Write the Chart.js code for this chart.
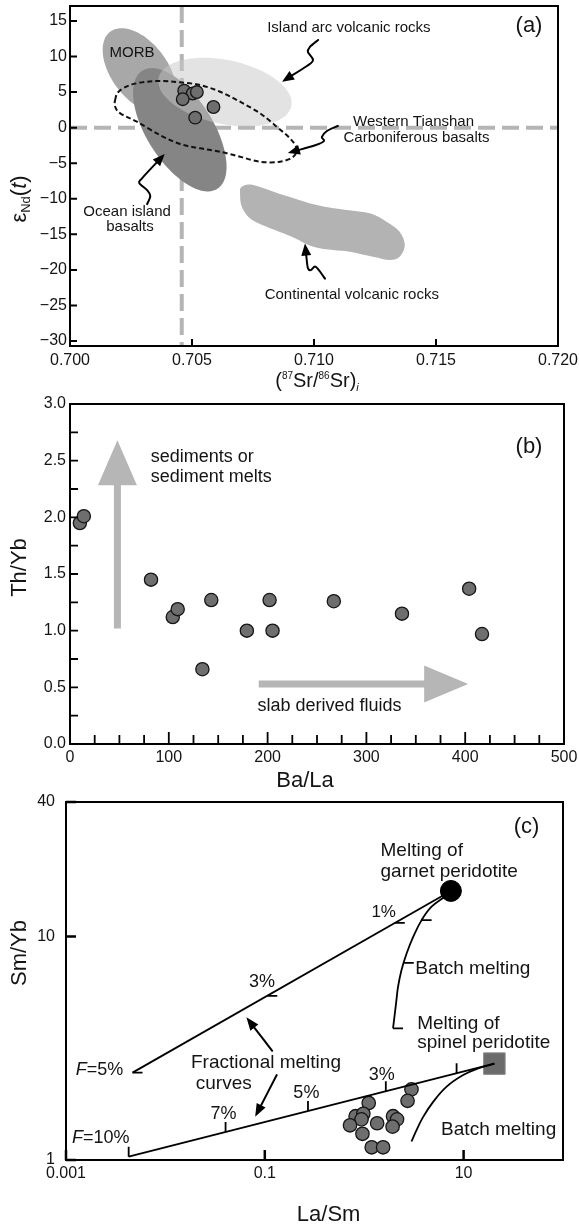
<!DOCTYPE html>
<html lang="en">
<head>
<meta charset="utf-8">
<title>Sr–Nd isotopes, Th/Yb–Ba/La and Sm/Yb–La/Sm diagrams</title>
<script src="https://cdn.jsdelivr.net/npm/chart.js@4.4.0/dist/chart.umd.min.js"></script>
<style>
  html, body { margin: 0; padding: 0; background: #fff; }
  #figure { position: relative; width: 579px; height: 1224px; overflow: hidden; background: #fff; }
  #figure canvas { position: absolute; left: 0; }
</style>
</head>
<body>
<div id="figure">
  <canvas id="panelA" width="579" height="400" style="top:0px"></canvas>
  <canvas id="panelB" width="579" height="410" style="top:388px"></canvas>
  <canvas id="panelC" width="579" height="434" style="top:790px"></canvas>
</div>
<script>
/* ================= (a) eNd(t) vs initial 87Sr/86Sr ================= */
const SR_TICKS = [0.700, 0.705, 0.710, 0.715, 0.720];
const SR_LABELS = ['0.700', '0.705', '0.710', '0.715', '0.720'];
const END_TICKS = [15, 10, 5, 0, -5, -10, -15, -20, -25, -30];
const END_LABELS = ['15', '10', '5', '0', '\u22125', '\u221210', '\u221215', '\u221220', '\u221225', '\u221230'];
const SAMPLE_SR = [0.70468, 0.70503, 0.70520, 0.70462, 0.70513, 0.70588];
const SAMPLE_END = [5.2, 4.8, 5.0, 4.0, 1.4, 2.9];
// bulk silicate earth reference values
const BSE_SR = 0.70458;
const BSE_END = 0;
// elliptical fields: centre (Sr, eNd) followed by two conjugate half-axes (dSr, deNd)
const MORB_FIELD = [0.70285, 8.0, 0.00120, -5.49, -0.00092, -2.37];
const OIB_FIELD = [0.70450, -0.3, 0.00154, -8.30, -0.00114, -2.50];
const ARC_FIELD = [0.70635, 5.0, 0.00272, -1.98, -0.00027, -4.40];
// outline of the continental volcanic rock field (Sr, eNd)
const CONT_FIELD = [[0.70704,-8.31],[0.70751,-8.07],[0.70874,-9.48],[0.71011,-10.89],[0.71133,-11.59],
  [0.71229,-12.05],[0.71297,-13.23],[0.71351,-14.64],[0.71372,-16.51],[0.71351,-18.16],[0.71311,-18.62],
  [0.71242,-18.16],[0.71147,-17.45],[0.71079,-17.22],[0.70997,-16.75],[0.70915,-15.43],[0.70806,-13.94],
  [0.70738,-12.76],[0.70704,-11.13],[0.70697,-9.24]];
// outline of the Western Tianshan Carboniferous basalt field
const TIANSHAN_FIELD = [[0.70185,3.88],[0.70199,5.05],[0.70247,5.99],[0.70315,6.46],[0.70383,6.55],
  [0.70451,6.37],[0.70533,5.99],[0.70615,5.05],[0.70697,3.64],[0.70779,2.01],[0.70847,0.13],[0.70901,-1.50],
  [0.70929,-2.91],[0.70915,-4.09],[0.70860,-4.80],[0.70779,-4.80],[0.70697,-4.09],[0.70615,-3.39],
  [0.70533,-2.91],[0.70451,-2.31],[0.70369,-1.05],[0.70274,0.83],[0.70206,2.01],[0.70185,2.94]];
// leader arrows, tail first, tip last
const ARROW_ARC = [[0.71017,12.32],[0.70983,11.34],[0.70975,10.63],[0.70996,9.51],[0.70971,8.66],[0.70869,6.46]];
const ARROW_TIANSHAN = [[0.71098,0.23],[0.71053,-0.48],[0.71032,-1.32],[0.71041,-1.88],[0.71008,-2.45],[0.70893,-3.57]];
const ARROW_OIB = [[0.70316,-10.75],[0.70329,-9.62],[0.70316,-8.78],[0.70284,-7.79],[0.70296,-7.09],[0.70388,-3.71]];
const ARROW_CONT = [[0.71045,-21.22],[0.71020,-20.03],[0.71004,-19.54],[0.70987,-20.03],[0.70975,-19.75],[0.70969,-18.21],[0.70963,-16.30]];
const NOTES_A = [
  ['Island arc volcanic rocks', 0.71143, 13.97],
  ['MORB', 0.70254, 10.56],
  ['Western Tianshan', 0.71408, 0.83],
  ['Carboniferous basalts', 0.71420, -1.50],
  ['Ocean island', 0.70234, -11.83],
  ['basalts', 0.70246, -14.02],
  ['Continental volcanic rocks', 0.71155, -23.54]
];

/* ================= (b) Th/Yb vs Ba/La ================= */
const BALA_TICKS = [0, 100, 200, 300, 400, 500];
const BALA_LABELS = ['0', '100', '200', '300', '400', '500'];
const THYB_TICKS = [0, 0.5, 1.0, 1.5, 2.0, 2.5, 3.0];
const THYB_LABELS = ['0.0', '0.5', '1.0', '1.5', '2.0', '2.5', '3.0'];
const BALA = [10, 14, 82, 104, 109, 134, 143, 179, 202, 205, 267, 336, 404, 417];
const THYB = [1.95, 2.01, 1.45, 1.12, 1.19, 0.66, 1.27, 1.00, 1.27, 1.00, 1.26, 1.15, 1.37, 0.97];
const SEDIMENT_ARROW = [[48, 1.02], [48, 2.68]];
const FLUID_ARROW = [[191, 0.53], [403, 0.53]];
const NOTES_B = [
  ['sediments or', 81.7, 2.53],
  ['sediment melts', 81.7, 2.36],
  ['slab derived fluids', 189.7, 0.338]
];

/* ================= (c) Sm/Yb vs La/Sm melting model ================= */
const LASM_TICKS = [0.001, 0.1, 10];
const LASM_LABELS = ['0.001', '0.1', '10'];
const SMYB_TICKS = [1, 10, 40];
const SMYB_LABELS = ['1', '10', '40'];
const LASM = [2.99, 2.73, 1.11, 0.82, 0.98, 0.94, 0.72, 1.35, 1.95, 2.14, 1.93, 0.96, 1.19, 1.55];
const SMYB = [2.07, 1.84, 1.80, 1.57, 1.61, 1.52, 1.43, 1.46, 1.57, 1.52, 1.41, 1.31, 1.14, 1.14];
const GARNET_SOURCE = [7.45, 16.0];
const SPINEL_SOURCE = [20.4, 2.70];
const FRAC_GARNET = [[7.45, 16.0], [0.00467, 2.46]];
const FRAC_GARNET_MARKS = [[2.03, 11.5], [0.106, 5.43], [0.00467, 2.46]];
const BATCH_GARNET = [[7.45,16.0],[6.75,15.3],[4.76,13.6],[3.78,11.84],[3.11,9.97],[2.67,8.40],
  [2.37,7.07],[2.19,5.96],[2.11,5.19],[1.95,3.88]];
const BATCH_GARNET_MARKS = [[3.78, 11.84], [2.50, 7.63], [1.95, 3.88]];
const FRAC_SPINEL = [[20.4, 2.70], [0.00427, 1.035]];
const FRAC_SPINEL_MARKS = [[8.50, 2.445], [1.65, 2.03], [0.272, 1.656], [0.0403, 1.335], [0.00427, 1.035]];
const BATCH_SPINEL = [[20.4,2.70],[14.0,2.57],[9.9,2.40],[6.75,2.13],[4.94,1.82],[3.92,1.56],[3.36,1.36],[2.99,1.21]];
const FRAC_ARROWS = [[[0.1187, 3.08], [0.0653, 4.35]], [[0.1318, 2.40], [0.080, 1.56]]];
const NOTES_C = [
  ['Melting of', 1.46, 24.1, 'left', 19],
  ['garnet peridotite', 1.46, 19.4, 'left', 19],
  ['1%', 1.57, 12.9, 'center', 17],
  ['3%', 0.0936, 6.27, 'center', 18],
  ['Batch melting', 3.26, 7.15, 'left', 19],
  ['Melting of', 3.41, 4.09, 'left', 19],
  ['spinel peridotite', 3.41, 3.33, 'left', 19],
  ['Fractional melting', 0.0181, 2.71, 'left', 19],
  ['curves', 0.0202, 2.20, 'left', 19],
  ['3%', 1.50, 2.40, 'center', 18],
  ['5%', 0.262, 1.99, 'center', 18],
  ['7%', 0.0385, 1.61, 'center', 18],
  ['Batch melting', 5.94, 1.36, 'left', 19]
];
const F_NOTES_C = [['=5%', 0.00125, 2.53], ['=10%', 0.00115, 1.25]];

/* ================= drawing helpers ================= */
const FONT = '"Liberation Sans", Arial, Helvetica, sans-serif';
const INK = '#141414';

function P(chart, x, y) {
  return [chart.scales.x.getPixelForValue(x), chart.scales.y.getPixelForValue(y)];
}

function clipArea(chart) {
  const a = chart.chartArea, ctx = chart.ctx;
  ctx.beginPath();
  ctx.rect(a.left, a.top, a.right - a.left, a.bottom - a.top);
  ctx.clip();
}

function ellipsePath(chart, f) {
  const ctx = chart.ctx;
  ctx.beginPath();
  for (let k = 0; k <= 120; k++) {
    const t = k / 120 * 2 * Math.PI;
    const [x, y] = P(chart, f[0] + f[2] * Math.cos(t) + f[4] * Math.sin(t),
                            f[1] + f[3] * Math.cos(t) + f[5] * Math.sin(t));
    if (k) ctx.lineTo(x, y); else ctx.moveTo(x, y);
  }
  ctx.closePath();
}

// Catmull-Rom spline through pixel points
function splinePath(ctx, pts, closed) {
  const n = pts.length;
  const get = i => closed ? pts[(i + n) % n] : pts[Math.max(0, Math.min(n - 1, i))];
  ctx.moveTo(pts[0][0], pts[0][1]);
  const segs = closed ? n : n - 1;
  for (let i = 0; i < segs; i++) {
    const p0 = get(i - 1), p1 = get(i), p2 = get(i + 1), p3 = get(i + 2);
    ctx.bezierCurveTo(p1[0] + (p2[0] - p0[0]) / 6, p1[1] + (p2[1] - p0[1]) / 6,
                      p2[0] - (p3[0] - p1[0]) / 6, p2[1] - (p3[1] - p1[1]) / 6,
                      p2[0], p2[1]);
  }
  if (closed) ctx.closePath();
}

function lineArrow(chart, pts, len, half, width) {
  const ctx = chart.ctx;
  const pix = pts.map(p => P(chart, p[0], p[1]));
  const tip = pix[pix.length - 1], prev = pix[pix.length - 2];
  const d = Math.hypot(tip[0] - prev[0], tip[1] - prev[1]);
  const ux = (tip[0] - prev[0]) / d, uy = (tip[1] - prev[1]) / d;
  const shaft = pix.slice(0, -1).concat([[tip[0] - ux * len * 0.7, tip[1] - uy * len * 0.7]]);
  ctx.save();
  ctx.strokeStyle = '#000'; ctx.fillStyle = '#000'; ctx.lineWidth = width;
  ctx.lineJoin = 'round'; ctx.lineCap = 'round';
  ctx.beginPath(); splinePath(ctx, shaft, false); ctx.stroke();
  const bx = tip[0] - ux * len, by = tip[1] - uy * len;
  ctx.beginPath();
  ctx.moveTo(tip[0], tip[1]);
  ctx.lineTo(bx - uy * half, by + ux * half);
  ctx.lineTo(bx + uy * half, by - ux * half);
  ctx.closePath(); ctx.fill();
  ctx.restore();
}

function blockArrow(chart, tail, tip, shaftW, headLen, headHalf, color) {
  const ctx = chart.ctx;
  const [x0, y0] = P(chart, tail[0], tail[1]), [x1, y1] = P(chart, tip[0], tip[1]);
  const d = Math.hypot(x1 - x0, y1 - y0), ux = (x1 - x0) / d, uy = (y1 - y0) / d, nx = -uy, ny = ux;
  const bx = x1 - ux * headLen, by = y1 - uy * headLen, w = shaftW / 2;
  ctx.beginPath();
  ctx.moveTo(x0 + nx * w, y0 + ny * w);
  ctx.lineTo(bx + nx * w, by + ny * w);
  ctx.lineTo(bx + nx * headHalf, by + ny * headHalf);
  ctx.lineTo(x1, y1);
  ctx.lineTo(bx - nx * headHalf, by - ny * headHalf);
  ctx.lineTo(bx - nx * w, by - ny * w);
  ctx.lineTo(x0 - nx * w, y0 - ny * w);
  ctx.closePath();
  ctx.fillStyle = color; ctx.fill();
}

function text(ctx, s, x, y, size, align, style) {
  ctx.font = (style || '') + size + 'px ' + FONT;
  ctx.textAlign = align || 'center';
  ctx.textBaseline = 'middle';
  ctx.fillStyle = INK;
  ctx.fillText(s, x, y);
}

// runs of [text, size, baseline shift, font style] drawn one after another
function runs(ctx, parts, x, y, rotate) {
  ctx.save();
  ctx.translate(x, y);
  if (rotate) ctx.rotate(-Math.PI / 2);
  ctx.textAlign = 'left'; ctx.textBaseline = 'alphabetic'; ctx.fillStyle = INK;
  let total = 0;
  parts.forEach(p => { ctx.font = (p[3] || '') + p[1] + 'px ' + FONT; total += ctx.measureText(p[0]).width; });
  let cx = -total / 2;
  parts.forEach(p => {
    ctx.font = (p[3] || '') + p[1] + 'px ' + FONT;
    ctx.fillText(p[0], cx, p[2]);
    cx += ctx.measureText(p[0]).width;
  });
  ctx.restore();
}

function frame(chart, xTicks, yTicks, tickWidth) {
  const ctx = chart.ctx, a = chart.chartArea;
  ctx.save();
  ctx.strokeStyle = '#000';
  ctx.lineWidth = tickWidth;
  ctx.beginPath();
  xTicks.forEach(([v, len]) => {
    const x = chart.scales.x.getPixelForValue(v);
    ctx.moveTo(x, a.bottom); ctx.lineTo(x, a.bottom - len);
  });
  yTicks.forEach(([v, len]) => {
    const y = chart.scales.y.getPixelForValue(v);
    ctx.moveTo(a.left, y); ctx.lineTo(a.left + len, y);
  });
  ctx.stroke();
  ctx.lineWidth = 2;
  ctx.strokeRect(a.left, a.top, a.right - a.left, a.bottom - a.top);
  ctx.restore();
}

function axis(type, min, max, ticks, labels, fit, padding, size) {
  return {
    type, min, max,
    grid: { display: false, drawTicks: false },
    border: { display: false },
    afterBuildTicks: s => { s.ticks = ticks.map(v => ({ value: v })); },
    afterFit: s => { fit(s); s.paddingLeft = 0; s.paddingRight = 0; s.paddingTop = 0; s.paddingBottom = 0; },
    ticks: {
      autoSkip: false, maxRotation: 0, minRotation: 0, padding, color: INK,
      font: { family: FONT, size },
      callback: (v, i) => labels[i]
    }
  };
}

function baseOptions(padding, scales) {
  return {
    responsive: false, animation: false, devicePixelRatio: 1, events: [],
    layout: { padding, autoPadding: false },
    plugins: { legend: { display: false }, tooltip: { enabled: false } },
    scales
  };
}

function pts(xs, ys) { return xs.map((x, i) => ({ x, y: ys[i] })); }
function pairs(arr) { return arr.map(p => ({ x: p[0], y: p[1] })); }

/* ================= chart (a) ================= */
const isotopePlugin = {
  id: 'isotopeFields',
  beforeDatasetsDraw(chart) {
    const ctx = chart.ctx, a = chart.chartArea;
    ctx.save();
    clipArea(chart);
    const [vx, hy] = P(chart, BSE_SR, BSE_END);
    ctx.strokeStyle = '#b5b5b5'; ctx.lineWidth = 4; ctx.setLineDash([17, 7]);
    ctx.beginPath();
    ctx.moveTo(vx, a.top); ctx.lineTo(vx, a.bottom);
    ctx.moveTo(a.left, hy); ctx.lineTo(a.right, hy);
    ctx.stroke();
    ctx.setLineDash([]);
    ellipsePath(chart, MORB_FIELD); ctx.fillStyle = '#a8a8a8'; ctx.fill();
    ellipsePath(chart, OIB_FIELD); ctx.fillStyle = '#858585'; ctx.fill();
    ellipsePath(chart, ARC_FIELD); ctx.fillStyle = 'rgba(200,200,200,0.5)'; ctx.fill();
    ctx.beginPath(); splinePath(ctx, CONT_FIELD.map(p => P(chart, p[0], p[1])), true);
    ctx.fillStyle = '#b3b3b3'; ctx.fill();
    ctx.beginPath(); splinePath(ctx, TIANSHAN_FIELD.map(p => P(chart, p[0], p[1])), true);
    ctx.strokeStyle = '#111'; ctx.lineWidth = 2; ctx.setLineDash([5, 3]); ctx.stroke();
    ctx.restore();
  },
  afterDatasetsDraw(chart) {
    const ctx = chart.ctx;
    [ARROW_ARC, ARROW_TIANSHAN, ARROW_OIB, ARROW_CONT].forEach(a => lineArrow(chart, a, 12, 5, 2));
    NOTES_A.forEach(([s, x, y]) => { const [px, py] = P(chart, x, y); text(ctx, s, px, py, 15); });
  },
  afterDraw(chart) {
    const ctx = chart.ctx, a = chart.chartArea;
    frame(chart, SR_TICKS.map(v => [v, 7]), END_TICKS.map(v => [v, 7]), 2);
    text(ctx, '(a)', a.right - 29, a.top + 19.5, 22);
    runs(ctx, [['(', 20, 0], ['87', 10, -8], ['Sr', 20, 0], ['/', 20, 0], ['86', 10, -8], ['Sr', 20, 0], [')', 20, 0], ['i', 11, 4, 'italic ']],
      317, 387, false);
    runs(ctx, [['\u03b5', 22, 0], ['Nd', 13, 4], ['(', 22, 0], ['t', 22, 0, 'italic '], [')', 22, 0]], 26, 199, true);
  }
};

new Chart(document.getElementById('panelA'), {
  type: 'scatter',
  data: { datasets: [{
    data: pts(SAMPLE_SR, SAMPLE_END),
    pointRadius: 6.3, pointBackgroundColor: '#6e6e6e', pointBorderColor: '#151515', pointBorderWidth: 1.3
  }] },
  options: baseOptions({ top: 6, right: 21, left: 0, bottom: 0 }, {
    x: axis('linear', 0.700, 0.720, SR_TICKS, SR_LABELS, s => { s.height = 54; }, 5, 16),
    y: axis('linear', -30.7, 17.1, END_TICKS, END_LABELS, s => { s.width = 70; }, 3, 16)
  }),
  plugins: [isotopePlugin]
});

/* ================= chart (b) ================= */
const BALA_MINOR = 25, THYB_MINOR = 0.25;
const slabPlugin = {
  id: 'slabArrows',
  beforeDatasetsDraw(chart) {
    const ctx = chart.ctx;
    blockArrow(chart, SEDIMENT_ARROW[0], SEDIMENT_ARROW[1], 7, 45, 19.5, '#b6b6b6');
    blockArrow(chart, FLUID_ARROW[0], FLUID_ARROW[1], 7, 44, 18.5, '#b6b6b6');
    NOTES_B.forEach(([s, x, y]) => { const [px, py] = P(chart, x, y); text(ctx, s, px, py, 18, 'left'); });
  },
  afterDraw(chart) {
    const ctx = chart.ctx, a = chart.chartArea;
    const xt = [], yt = [];
    for (let v = 0; v <= 500; v += BALA_MINOR) xt.push([v, v % 100 === 0 ? 12 : 9]);
    for (let k = 0; k <= 12; k++) yt.push([k * THYB_MINOR, 8]);
    frame(chart, xt, yt, 1.8);
    text(ctx, '(b)', a.right - 35, a.top + 42.7, 22);
    text(ctx, 'Ba/La', 305, 392.7, 22);
    ctx.save(); ctx.translate(19.5, 179.5); ctx.rotate(-Math.PI / 2);
    text(ctx, 'Th/Yb', 0, 0, 22); ctx.restore();
  }
};

new Chart(document.getElementById('panelB'), {
  type: 'scatter',
  data: { datasets: [{
    data: pts(BALA, THYB),
    pointRadius: 6.6, pointBackgroundColor: '#6e6e6e', pointBorderColor: '#151515', pointBorderWidth: 1.3
  }] },
  options: baseOptions({ top: 16, right: 15, left: 0, bottom: 0 }, {
    x: axis('linear', 0, 500, BALA_TICKS, BALA_LABELS, s => { s.height = 54; }, 4, 16),
    y: axis('linear', 0, 3, THYB_TICKS, THYB_LABELS, s => { s.width = 70; }, 4, 16)
  }),
  plugins: [slabPlugin]
});

/* ================= chart (c) ================= */
const meltPlugin = {
  id: 'meltingModel',
  afterDatasetsDraw(chart) {
    const ctx = chart.ctx;
    ctx.save();
    ctx.strokeStyle = '#000'; ctx.lineWidth = 1.8;
    ctx.beginPath();
    FRAC_GARNET_MARKS.concat(BATCH_GARNET_MARKS).forEach(m => {
      const [x, y] = P(chart, m[0], m[1]); ctx.moveTo(x, y); ctx.lineTo(x + 10, y);
    });
    FRAC_SPINEL_MARKS.forEach(m => {
      const [x, y] = P(chart, m[0], m[1]); ctx.moveTo(x, y); ctx.lineTo(x, y - 10);
    });
    ctx.stroke();
    ctx.restore();
    FRAC_ARROWS.forEach(a => lineArrow(chart, a, 13, 5, 2));
    NOTES_C.forEach(([s, x, y, align, size]) => { const [px, py] = P(chart, x, y); text(ctx, s, px, py, size, align); });
    F_NOTES_C.forEach(([s, x, y]) => {
      const [px, py] = P(chart, x, y);
      text(ctx, 'F', px, py, 18, 'left', 'italic ');
      ctx.font = 'italic 18px ' + FONT;
      const w = ctx.measureText('F').width;
      text(ctx, s, px + w, py, 18, 'left');
    });
  },
  afterDraw(chart) {
    const ctx = chart.ctx, a = chart.chartArea;
    frame(chart, LASM_TICKS.map(v => [v, 10]), SMYB_TICKS.map(v => [v, 10]), 2.5);
    text(ctx, '(c)', a.right - 36.5, a.top + 24.7, 22);
    text(ctx, 'La/Sm', 328.6, 425, 22);
    ctx.save(); ctx.translate(20, 163); ctx.rotate(-Math.PI / 2);
    text(ctx, 'Sm/Yb', 0, 0, 22); ctx.restore();
  }
};

const curve = (data, tension) => ({
  data: pairs(data), showLine: true, borderColor: '#000', borderWidth: 1.8,
  pointRadius: 0, tension, fill: false
});

new Chart(document.getElementById('panelC'), {
  type: 'scatter',
  data: { datasets: [
    curve(FRAC_GARNET, 0),
    curve(BATCH_GARNET, 0.4),
    curve(FRAC_SPINEL, 0),
    curve(BATCH_SPINEL, 0.4),
    { data: pts(LASM, SMYB), pointRadius: 6.7, pointBackgroundColor: '#6e6e6e', pointBorderColor: '#151515', pointBorderWidth: 1.3 },
    { data: pairs([GARNET_SOURCE]), pointRadius: 10.5, pointBackgroundColor: '#000', pointBorderColor: '#000', pointBorderWidth: 1 },
    { data: pairs([SPINEL_SOURCE]), pointStyle: 'rect', pointRadius: 15.2, pointBackgroundColor: '#6b6b6b', pointBorderColor: '#8a8a8a', pointBorderWidth: 1 }
  ] },
  options: baseOptions({ top: 12, right: 16, left: 0, bottom: 0 }, {
    x: axis('logarithmic', 0.001, 100, LASM_TICKS, LASM_LABELS, s => { s.height = 64; }, 4, 16),
    y: axis('logarithmic', 1, 40, SMYB_TICKS, SMYB_LABELS, s => { s.width = 66; }, 11, 16)
  }),
  plugins: [meltPlugin]
});
</script>
</body>
</html>
